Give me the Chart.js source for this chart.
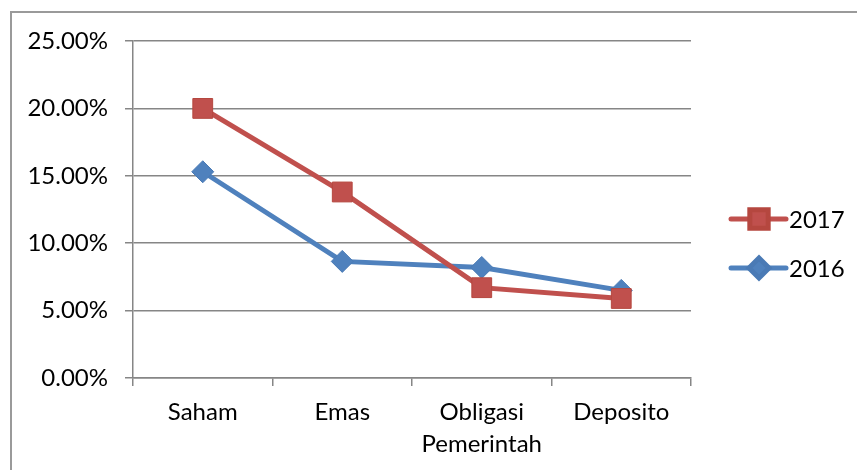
<!DOCTYPE html>
<html>
<head>
<meta charset="utf-8">
<script src="https://cdn.jsdelivr.net/npm/chart.js@4.4.1/dist/chart.umd.min.js"></script>
<style>
html, body { margin: 0; padding: 0; background: #fff; }
#wrap { position: relative; width: 857px; height: 470px; overflow: hidden; }
#frame { position: absolute; left: 10px; top: 11px; right: -5px; bottom: -5px;
  border-left: 2px solid #9a9a9a; border-top: 2px solid #9a9a9a; }
canvas { position: absolute; left: 0; top: 0; }
</style>
</head>
<body>
<div id="wrap">
  <div id="frame"></div>
  <canvas id="chart" width="857" height="470"></canvas>
</div>
<script>
// chart data
const categories = ['Saham', 'Emas', ['Obligasi', 'Pemerintah'], 'Deposito'];
const seriesNames = ['2017', '2016'];
const values2017 = [20.0, 13.8, 6.7, 5.9];
const values2016 = [15.3, 8.65, 8.2, 6.5];
const yMin = 0;
const yMax = 25;
const yStep = 5;

const RED = '#C0504D';
const BLUE = '#4F81BD';
const GRID = '#868686';
const FONT = { family: 'Lato, "Open Sans", sans-serif', size: 24 };

// legend drawn by hand so the line + marker look like the excel one
const sideLegend = {
  id: 'sideLegend',
  afterDraw(chart) {
    const ctx = chart.ctx;
    const area = chart.chartArea;
    const x0 = area.right + 40;
    const rows = [
      { y: 219, ds: chart.data.datasets[0] },
      { y: 268, ds: chart.data.datasets[1] }
    ];
    ctx.save();
    rows.forEach(r => {
      ctx.strokeStyle = r.ds.borderColor;
      ctx.lineWidth = r.ds.borderWidth;
      ctx.lineCap = 'round';
      ctx.beginPath();
      ctx.moveTo(x0, r.y);
      ctx.lineTo(x0 + 55, r.y);
      ctx.stroke();
      ctx.fillStyle = r.ds.pointBackgroundColor;
      ctx.strokeStyle = r.ds.pointBorderColor;
      Chart.helpers.drawPoint(ctx, {
        pointStyle: r.ds.pointStyle,
        radius: r.ds.pointRadius - 1,
        borderWidth: 1
      }, x0 + 28, r.y);
      ctx.fillStyle = '#000';
      ctx.font = FONT.size + 'px ' + FONT.family;
      ctx.textBaseline = 'middle';
      ctx.textAlign = 'left';
      ctx.fillText(r.ds.label, x0 + 58, r.y + 1);
    });
    ctx.restore();
  }
};

const ctx = document.getElementById('chart').getContext('2d');
new Chart(ctx, {
  type: 'line',
  data: {
    labels: categories,
    datasets: [{
      label: seriesNames[0],
      data: values2017,
      borderColor: RED,
      backgroundColor: RED,
      borderWidth: 5,
      pointStyle: 'rect',
      pointRadius: 14,
      pointBackgroundColor: RED,
      pointBorderColor: '#B5473F',
      pointBorderWidth: 1,
      tension: 0
    }, {
      label: seriesNames[1],
      data: values2016,
      borderColor: BLUE,
      backgroundColor: BLUE,
      borderWidth: 5,
      pointStyle: 'rectRot',
      pointRadius: 11,
      pointBackgroundColor: BLUE,
      pointBorderColor: '#4A7AB5',
      pointBorderWidth: 1,
      tension: 0
    }]
  },
  options: {
    responsive: false,
    animation: false,
    devicePixelRatio: 1,
    layout: { padding: { left: 0, top: 41, right: 166, bottom: 0 } },
    plugins: {
      legend: { display: false },
      tooltip: { enabled: false }
    },
    scales: {
      x: {
        offset: true,
        grid: { offset: true, drawOnChartArea: false, drawTicks: true, tickLength: 8, color: GRID, lineWidth: 1.5 },
        border: { display: true, color: GRID, width: 1.5 },
        ticks: { font: { ...FONT, lineHeight: 1.35 }, color: '#000', padding: 10, maxRotation: 0, autoSkip: false },
        afterFit: s => { s.height = 92; }
      },
      y: {
        min: yMin,
        max: yMax,
        grid: { color: GRID, lineWidth: 1.5, tickLength: 8 },
        border: { display: true, color: GRID, width: 1.5 },
        ticks: {
          stepSize: yStep,
          font: FONT,
          color: '#000',
          padding: 17,
          callback: v => v.toFixed(2) + '%'
        },
        afterFit: s => { s.width = 133; }
      }
    }
  },
  plugins: [sideLegend]
});
</script>
</body>
</html>
